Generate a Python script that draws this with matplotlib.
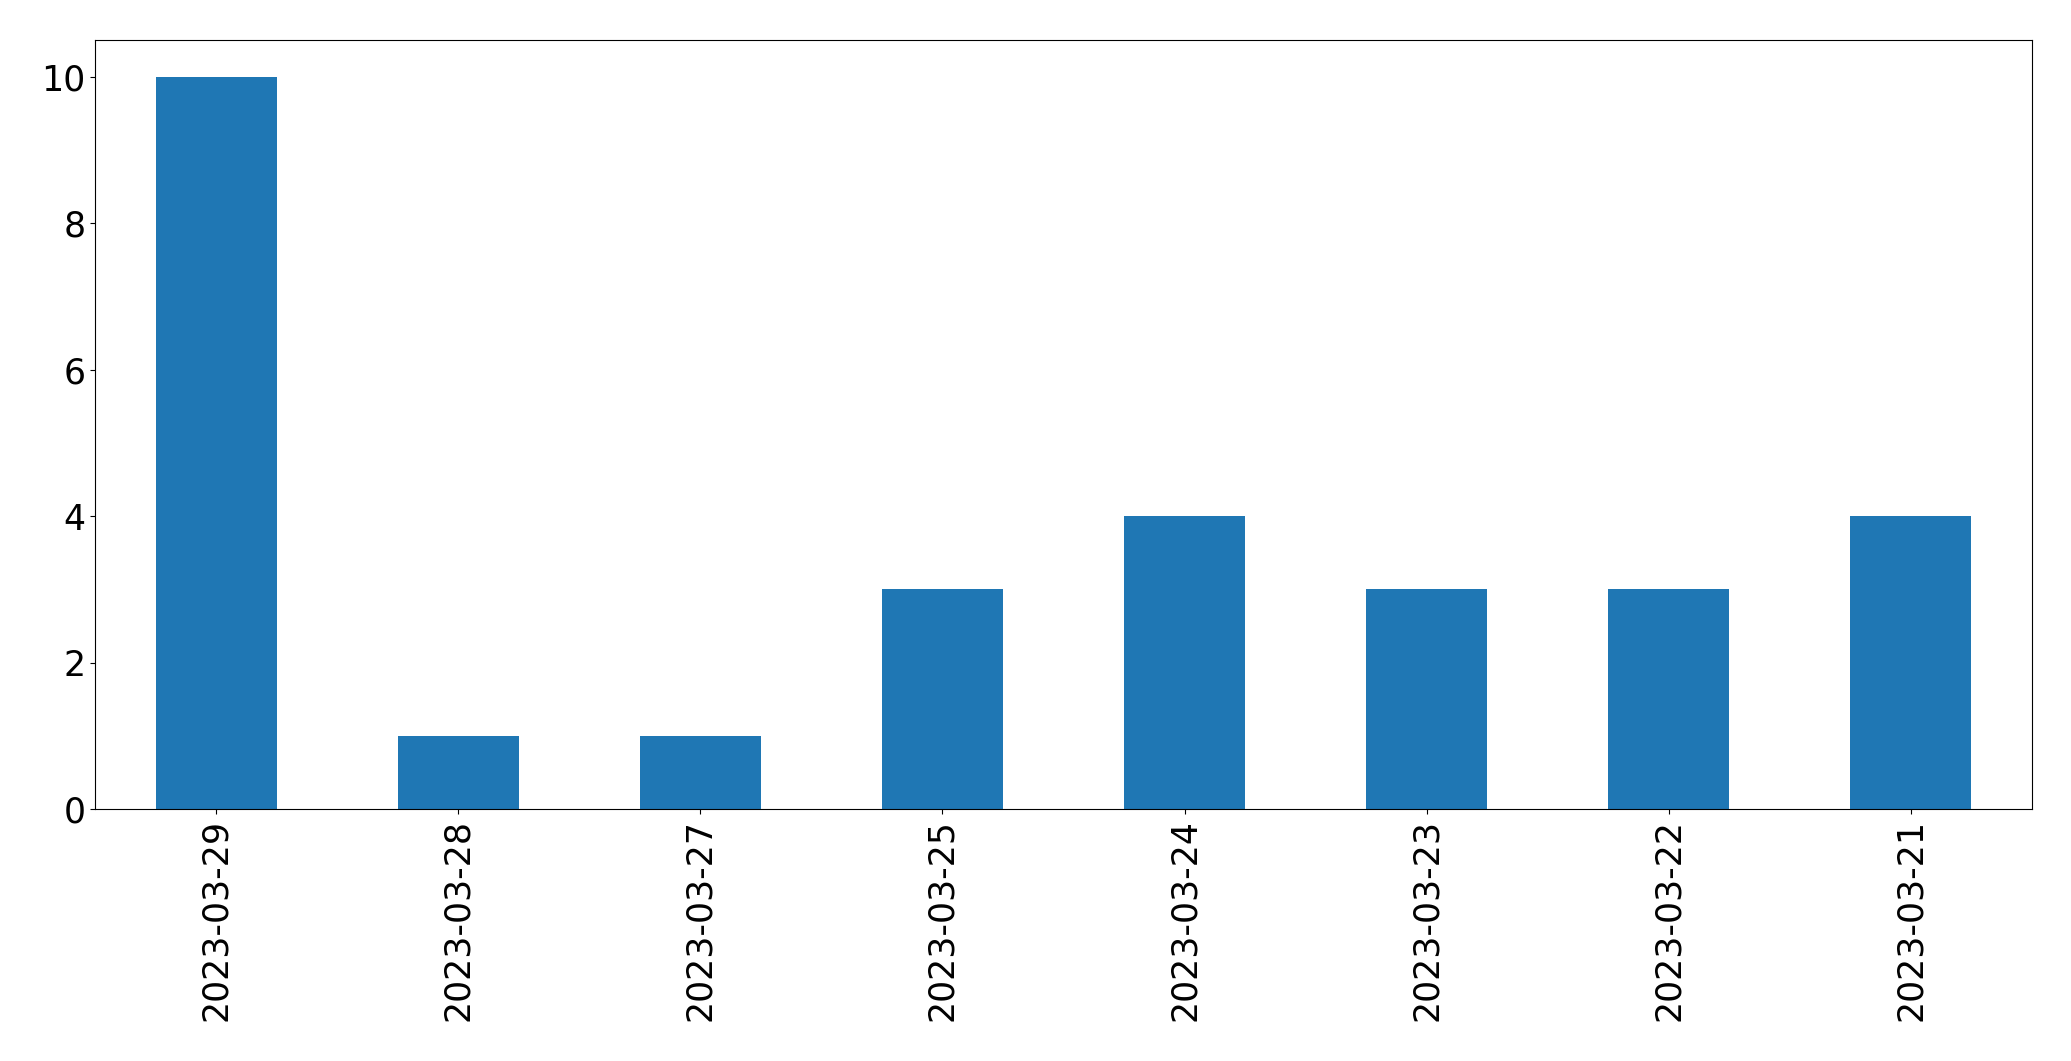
import matplotlib
matplotlib.use('Agg')
import matplotlib.pyplot as plt
import numpy as np

dates = ['2023-03-29', '2023-03-28', '2023-03-27', '2023-03-25',
         '2023-03-24', '2023-03-23', '2023-03-22', '2023-03-21']
counts = [10, 1, 1, 3, 4, 3, 3, 4]

fig = plt.figure(figsize=(20.71, 10.61), dpi=100)
# axes box in pixels: left 95, right 2032, top 40, bottom 809
ax = fig.add_axes([95 / 2071, 1 - 809 / 1061, (2032 - 95) / 2071, (809 - 40) / 1061])

x = np.arange(len(dates))
ax.bar(x, counts, width=0.5, color='#1f77b4')
ax.set_xlim(-0.5, len(dates) - 0.5)
ax.set_ylim(0, 10.5)
ax.set_xticks(x)
ax.set_xticklabels(dates, rotation=90)
ax.tick_params(axis='both', labelsize=25)

fig.savefig('out.png', dpi=100)
